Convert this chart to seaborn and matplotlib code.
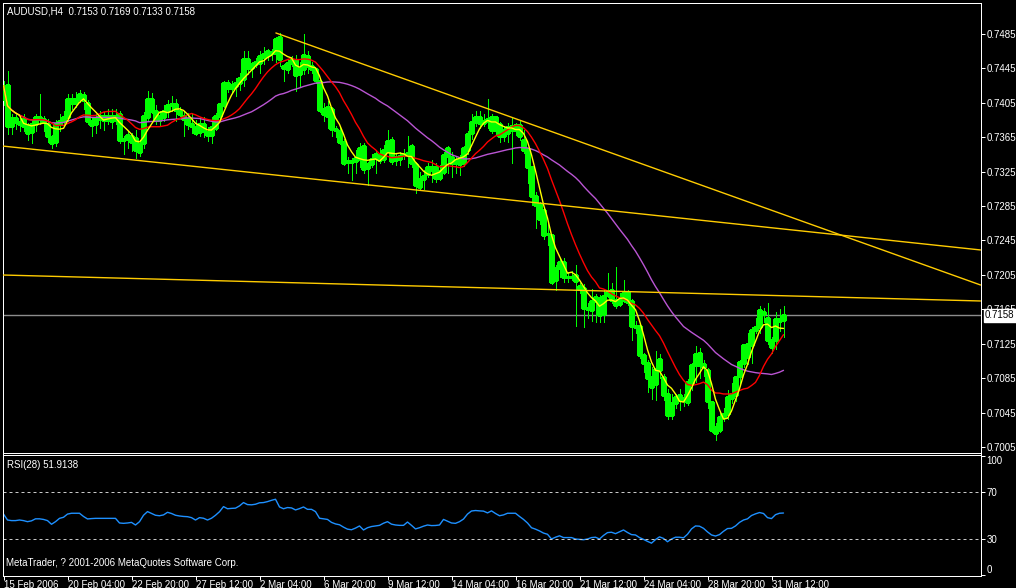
import matplotlib
matplotlib.use("Agg")
import numpy as np
import pandas as pd
import matplotlib.pyplot as plt
import seaborn as sns

# ---- chart data ----
title_text = "AUDUSD,H4  0.7153 0.7169 0.7133 0.7158"
rsi_text = "RSI(28) 51.9138"
footer_text = "MetaTrader, ? 2001-2006 MetaQuotes Software Corp."

opens = [
    0.7410, 0.7426, 0.7378, 0.7387, 0.7383, 0.7386, 0.7378, 0.7371, 0.7380, 0.7388,
    0.7386, 0.7380, 0.7365, 0.7360, 0.7380, 0.7384, 0.7388, 0.7409, 0.7405, 0.7410,
    0.7414, 0.7405, 0.7384, 0.7380, 0.7386, 0.7390, 0.7385, 0.7390, 0.7385, 0.7392,
    0.7362, 0.7363, 0.7366, 0.7364, 0.7348, 0.7358, 0.7388, 0.7409, 0.7396, 0.7385,
    0.7388, 0.7395, 0.7402, 0.7404, 0.7396, 0.7390, 0.7386, 0.7380, 0.7377, 0.7371,
    0.7380, 0.7371, 0.7368, 0.7376, 0.7390, 0.7403, 0.7428, 0.7422, 0.7425, 0.7428,
    0.7433, 0.7456, 0.7446, 0.7450, 0.7451, 0.7458, 0.7461, 0.7464, 0.7463, 0.7482,
    0.7448, 0.7444, 0.7451, 0.7455, 0.7438, 0.7444, 0.7460, 0.7448, 0.7444, 0.7430,
    0.7398, 0.7390, 0.7398, 0.7375, 0.7372, 0.7360, 0.7336, 0.7337, 0.7337, 0.7340,
    0.7355, 0.7329, 0.7334, 0.7341, 0.7344, 0.7340, 0.7350, 0.7362, 0.7338, 0.7340,
    0.7344, 0.7344, 0.7355, 0.7334, 0.7307, 0.7317, 0.7322, 0.7331, 0.7330, 0.7318,
    0.7325, 0.7343, 0.7342, 0.7335, 0.7338, 0.7335, 0.7350, 0.7370, 0.7383, 0.7388,
    0.7382, 0.7384, 0.7388, 0.7374, 0.7380, 0.7367, 0.7370, 0.7378, 0.7374, 0.7379,
    0.7362, 0.7351, 0.7330, 0.7297, 0.7287, 0.7281, 0.7253, 0.7251, 0.7199, 0.7213,
    0.7220, 0.7203, 0.7202, 0.7205, 0.7192, 0.7190, 0.7166, 0.7164, 0.7175, 0.7178,
    0.7160, 0.7182, 0.7188, 0.7176, 0.7171, 0.7176, 0.7185, 0.7175, 0.7146, 0.7146,
    0.7112, 0.7103, 0.7086, 0.7078, 0.7094, 0.7086, 0.7067, 0.7042, 0.7056, 0.7060,
    0.7062, 0.7057, 0.7079, 0.7100, 0.7114, 0.7101, 0.7094, 0.7057, 0.7028, 0.7025,
    0.7040, 0.7043, 0.7062, 0.7066, 0.7087, 0.7103, 0.7110, 0.7124, 0.7141, 0.7145,
    0.7162, 0.7155, 0.7129, 0.7129, 0.7154, 0.7153,
]
highs = [
    0.7430, 0.7442, 0.7392, 0.7393, 0.7390, 0.7392, 0.7382, 0.7385, 0.7392, 0.7415,
    0.7390, 0.7386, 0.7368, 0.7385, 0.7392, 0.7396, 0.7415, 0.7415, 0.7418, 0.7420,
    0.7418, 0.7408, 0.7388, 0.7392, 0.7396, 0.7394, 0.7398, 0.7398, 0.7398, 0.7396,
    0.7367, 0.7372, 0.7370, 0.7373, 0.7362, 0.7394, 0.7419, 0.7417, 0.7402, 0.7396,
    0.7402, 0.7408, 0.7413, 0.7410, 0.7400, 0.7395, 0.7393, 0.7393, 0.7385, 0.7388,
    0.7388, 0.7377, 0.7388, 0.7393, 0.7405, 0.7430, 0.7432, 0.7430, 0.7434, 0.7440,
    0.7465, 0.7465, 0.7453, 0.7457, 0.7465, 0.7470, 0.7468, 0.7467, 0.7482, 0.7486,
    0.7450, 0.7455, 0.7460, 0.7461, 0.7452, 0.7485, 0.7465, 0.7453, 0.7446, 0.7433,
    0.7405, 0.7407, 0.7400, 0.7378, 0.7378, 0.7363, 0.7342, 0.7341, 0.7350, 0.7358,
    0.7358, 0.7336, 0.7346, 0.7350, 0.7352, 0.7356, 0.7373, 0.7365, 0.7345, 0.7348,
    0.7351, 0.7367, 0.7357, 0.7336, 0.7325, 0.7327, 0.7335, 0.7339, 0.7335, 0.7333,
    0.7348, 0.7355, 0.7348, 0.7343, 0.7344, 0.7355, 0.7372, 0.7392, 0.7395, 0.7395,
    0.7392, 0.7410, 0.7392, 0.7390, 0.7383, 0.7378, 0.7382, 0.7387, 0.7381, 0.7384,
    0.7373, 0.7352, 0.7331, 0.7301, 0.7290, 0.7284, 0.7267, 0.7253, 0.7216, 0.7225,
    0.7225, 0.7208, 0.7210, 0.7216, 0.7196, 0.7195, 0.7172, 0.7189, 0.7183, 0.7182,
    0.7187, 0.7207, 0.7196, 0.7214, 0.7184, 0.7199, 0.7188, 0.7177, 0.7152, 0.7148,
    0.7114, 0.7106, 0.7098, 0.7117, 0.7113, 0.7090, 0.7072, 0.7067, 0.7067, 0.7072,
    0.7067, 0.7084, 0.7103, 0.7122, 0.7120, 0.7106, 0.7097, 0.7058, 0.7033, 0.7045,
    0.7050, 0.7071, 0.7079, 0.7088, 0.7106, 0.7124, 0.7138, 0.7144, 0.7155, 0.7169,
    0.7166, 0.7172, 0.7133, 0.7162, 0.7165, 0.7169,
]
lows = [
    0.7402, 0.7369, 0.7369, 0.7375, 0.7372, 0.7372, 0.7362, 0.7358, 0.7372, 0.7380,
    0.7372, 0.7360, 0.7352, 0.7355, 0.7372, 0.7378, 0.7384, 0.7398, 0.7400, 0.7406,
    0.7398, 0.7380, 0.7367, 0.7370, 0.7376, 0.7374, 0.7380, 0.7376, 0.7380, 0.7358,
    0.7346, 0.7352, 0.7349, 0.7341, 0.7343, 0.7353, 0.7384, 0.7393, 0.7380, 0.7378,
    0.7384, 0.7388, 0.7395, 0.7384, 0.7390, 0.7367, 0.7375, 0.7370, 0.7368, 0.7367,
    0.7365, 0.7361, 0.7358, 0.7373, 0.7385, 0.7400, 0.7418, 0.7416, 0.7413, 0.7420,
    0.7425, 0.7438, 0.7435, 0.7447, 0.7440, 0.7450, 0.7455, 0.7455, 0.7453, 0.7448,
    0.7430, 0.7440, 0.7448, 0.7419, 0.7425, 0.7438, 0.7440, 0.7440, 0.7428, 0.7394,
    0.7384, 0.7376, 0.7366, 0.7365, 0.7357, 0.7333, 0.7324, 0.7315, 0.7324, 0.7330,
    0.7324, 0.7309, 0.7331, 0.7324, 0.7335, 0.7336, 0.7348, 0.7334, 0.7333, 0.7333,
    0.7340, 0.7330, 0.7330, 0.7300, 0.7305, 0.7305, 0.7319, 0.7313, 0.7313, 0.7315,
    0.7322, 0.7323, 0.7319, 0.7323, 0.7321, 0.7332, 0.7345, 0.7363, 0.7378, 0.7376,
    0.7378, 0.7376, 0.7370, 0.7368, 0.7360, 0.7361, 0.7360, 0.7335, 0.7368, 0.7362,
    0.7347, 0.7312, 0.7286, 0.7260, 0.7264, 0.7247, 0.7240, 0.7195, 0.7187, 0.7202,
    0.7197, 0.7197, 0.7199, 0.7146, 0.7184, 0.7144, 0.7155, 0.7152, 0.7150, 0.7150,
    0.7150, 0.7179, 0.7172, 0.7167, 0.7169, 0.7173, 0.7170, 0.7129, 0.7137, 0.7108,
    0.7092, 0.7069, 0.7061, 0.7060, 0.7085, 0.7060, 0.7038, 0.7038, 0.7050, 0.7048,
    0.7053, 0.7054, 0.7071, 0.7080, 0.7085, 0.7088, 0.7050, 0.7023, 0.7013, 0.7022,
    0.7035, 0.7038, 0.7056, 0.7059, 0.7079, 0.7098, 0.7102, 0.7103, 0.7137, 0.7138,
    0.7150, 0.7125, 0.7114, 0.7119, 0.7140, 0.7133,
]
closes = [
    0.7425, 0.7378, 0.7387, 0.7383, 0.7380, 0.7378, 0.7370, 0.7380, 0.7388, 0.7386,
    0.7383, 0.7367, 0.7358, 0.7380, 0.7384, 0.7388, 0.7410, 0.7405, 0.7410, 0.7415,
    0.7408, 0.7384, 0.7379, 0.7387, 0.7390, 0.7385, 0.7390, 0.7384, 0.7390, 0.7362,
    0.7363, 0.7368, 0.7360, 0.7350, 0.7357, 0.7390, 0.7409, 0.7396, 0.7385, 0.7390,
    0.7395, 0.7402, 0.7404, 0.7397, 0.7392, 0.7386, 0.7380, 0.7378, 0.7370, 0.7380,
    0.7372, 0.7368, 0.7377, 0.7390, 0.7404, 0.7428, 0.7422, 0.7426, 0.7428, 0.7434,
    0.7456, 0.7446, 0.7450, 0.7452, 0.7459, 0.7462, 0.7465, 0.7463, 0.7479, 0.7456,
    0.7445, 0.7451, 0.7455, 0.7437, 0.7444, 0.7461, 0.7448, 0.7444, 0.7432, 0.7397,
    0.7392, 0.7400, 0.7375, 0.7373, 0.7360, 0.7335, 0.7337, 0.7336, 0.7341, 0.7352,
    0.7328, 0.7334, 0.7340, 0.7345, 0.7339, 0.7350, 0.7361, 0.7337, 0.7342, 0.7343,
    0.7346, 0.7347, 0.7335, 0.7309, 0.7317, 0.7320, 0.7331, 0.7327, 0.7318, 0.7326,
    0.7344, 0.7352, 0.7335, 0.7338, 0.7334, 0.7352, 0.7369, 0.7383, 0.7388, 0.7382,
    0.7384, 0.7386, 0.7374, 0.7388, 0.7367, 0.7373, 0.7377, 0.7374, 0.7379, 0.7367,
    0.7350, 0.7330, 0.7297, 0.7286, 0.7270, 0.7251, 0.7252, 0.7197, 0.7213, 0.7220,
    0.7203, 0.7202, 0.7203, 0.7198, 0.7189, 0.7166, 0.7165, 0.7175, 0.7179, 0.7158,
    0.7181, 0.7185, 0.7176, 0.7170, 0.7176, 0.7184, 0.7173, 0.7146, 0.7144, 0.7112,
    0.7103, 0.7085, 0.7075, 0.7096, 0.7107, 0.7065, 0.7042, 0.7056, 0.7063, 0.7065,
    0.7060, 0.7080, 0.7100, 0.7113, 0.7100, 0.7098, 0.7058, 0.7025, 0.7021, 0.7040,
    0.7043, 0.7063, 0.7067, 0.7086, 0.7104, 0.7123, 0.7125, 0.7141, 0.7145, 0.7164,
    0.7160, 0.7129, 0.7121, 0.7154, 0.7152, 0.7158,
]
rsi_values = [
    51.0, 46.0, 45.5, 45.5, 46.0, 45.5, 44.6, 45.3, 47.0, 47.0,
    46.5, 45.5, 42.4, 44.6, 47.4, 48.3, 51.0, 51.7, 51.7, 51.7,
    49.0, 46.9, 47.2, 47.4, 47.4, 47.4, 47.4, 47.4, 47.4, 43.5,
    43.2, 43.5, 44.0, 41.8, 44.6, 50.0, 53.1, 51.5, 50.0, 49.6,
    50.3, 52.5, 51.5, 50.0, 49.4, 49.0, 48.8, 48.0, 46.0, 48.0,
    47.5, 46.0, 47.5, 50.0, 53.0, 57.3, 55.5, 55.8, 56.0, 57.9,
    60.7, 59.0, 58.8, 59.3, 60.5, 60.7, 61.5, 62.6, 63.5, 57.0,
    55.5, 56.5, 56.2, 54.5, 55.6, 57.0, 55.0, 55.0, 53.1, 47.5,
    47.0, 46.5, 44.0, 42.7, 42.0, 40.0, 38.3, 37.8, 39.2, 41.0,
    37.6, 39.5, 40.5, 41.0, 41.5, 43.3, 44.6, 42.5, 41.8, 41.5,
    41.5, 44.3, 41.5, 38.5, 39.5, 40.8, 41.8, 41.3, 41.4, 41.8,
    46.5, 45.0, 43.5, 43.2, 44.6, 46.8, 51.0, 53.6, 54.0, 53.7,
    53.5, 52.0, 53.7, 51.5, 49.6, 50.3, 51.7, 51.7, 51.7, 49.0,
    46.5, 43.5, 39.5, 38.3, 36.8, 35.0, 34.0, 30.0, 31.5, 32.7,
    31.2, 31.2, 31.2, 30.0, 29.7, 29.4, 30.0, 31.2, 31.5, 30.0,
    33.0, 35.4, 35.7, 34.5, 36.0, 37.6, 35.5, 33.7, 33.4, 31.2,
    29.7, 28.0, 26.5, 29.5, 31.8, 30.5, 27.7, 30.0, 31.5, 31.5,
    31.0, 34.0, 38.5, 41.0, 40.8, 39.0, 36.0, 33.4, 32.5, 33.7,
    36.5, 38.8, 39.0, 41.0, 44.0, 46.0, 47.0, 49.8, 51.2, 52.3,
    51.5, 48.0, 47.2, 50.5, 51.7, 51.9,
]

# moving average periods (yellow / red / violet)
ma_periods = [5, 13, 34]
ma_colors = ["#FFFF00", "#FF0000", "#BA55D3"]

# hand drawn trend lines: (bar, price) -> (bar, price)
trend_x0 = [68.1, -0.25, -0.25]
trend_p0 = [0.74862, 0.73548, 0.72049]
trend_x1 = [244.25, 244.25, 244.25]
trend_p1 = [0.71933, 0.72340, 0.71747]

last_price = 0.7158
price_ticks = [0.7005, 0.7045, 0.7085, 0.7125, 0.7165, 0.7205, 0.7245,
               0.7285, 0.7325, 0.7365, 0.7405, 0.7445, 0.7485]
rsi_ticks = [100, 70, 30, 0]
rsi_levels = [70, 30]
date_bars = [0, 16, 32, 48, 64, 80, 96, 112, 128, 144, 160, 176, 192]
date_labels = ["15 Feb 2006", "20 Feb 04:00", "22 Feb 20:00", "27 Feb 12:00",
               "2 Mar 04:00", "6 Mar 20:00", "9 Mar 12:00", "14 Mar 04:00",
               "16 Mar 20:00", "21 Mar 12:00", "24 Mar 04:00", "28 Mar 20:00",
               "31 Mar 12:00"]

LIME = "#00FF00"
FONT = ["Liberation Sans", "DejaVu Sans"]

sns.set_style("dark", {"axes.facecolor": "black", "figure.facecolor": "black"})
plt.rcParams["font.family"] = FONT

df = pd.DataFrame({"bar": np.arange(len(closes)), "open": opens, "high": highs,
                   "low": lows, "close": closes, "rsi": rsi_values})
for p in ma_periods:
    df[f"ma{p}"] = df["close"].rolling(p, min_periods=1).mean()

W, H = 1016, 588
fig = plt.figure(figsize=(W / 100, H / 100), dpi=100, facecolor="black")
ax = fig.add_axes([2.5 / W, 1 - 452.5 / H, 978 / W, 450 / H])
ax_rsi = fig.add_axes([2.5 / W, 1 - 575.5 / H, 978 / W, 121 / H])

px = 72 / 100  # one pixel in points

# candles: lime wicks, bodies outlined in lime (bull hollow, bear white)
up = df["close"] >= df["open"]
ax.vlines(df["bar"], df["low"], df["high"], color=LIME, lw=px, antialiased=False, zorder=2)
body_lo = df[["open", "close"]].min(axis=1)
body_h = (df["close"] - df["open"]).abs()
ax.bar(df["bar"], body_h, bottom=body_lo, width=0.62,
       color=np.where(up, "black", "white"), edgecolor=LIME, linewidth=1.0,
       antialiased=False, zorder=3)

# moving averages
for p, c in zip(ma_periods[::-1], ma_colors[::-1]):
    sns.lineplot(data=df, x="bar", y=f"ma{p}", color=c, lw=1.0, ax=ax, zorder=4)

# trend lines
for x0, p0, x1, p1 in zip(trend_x0, trend_p0, trend_x1, trend_p1):
    ax.plot([x0, x1], [p0, p1], color="#FFCC00", lw=1.0, zorder=5)

ax.axhline(last_price, color="#8C8C8C", lw=1.0, zorder=1)

ax.set_xlim(-0.25, 244.25)
ax.set_ylim(0.7485 - (452.5 - 34) / 8604, 0.7485 + (34 - 2.5) / 8604)
ax.set_xlabel("")
ax.set_ylabel("")
ax.set_xticks([])
ax.yaxis.tick_right()
ax.set_yticks(price_ticks)
ax.set_yticklabels([f"{v:.4f}" for v in price_ticks])
ax.tick_params(axis="y", colors="white", labelcolor="white", length=3.5 * px,
               width=px, pad=2.5 * px, labelsize=7, right=True, left=False)
for s in ax.spines.values():
    s.set_color("white")
    s.set_linewidth(px)
ax.grid(False)

# current price marker on the price scale (covers the 0.7165 label, as in MetaTrader)
ax.annotate(f"{last_price:.4f}", xy=(1.0, last_price), xycoords=ax.get_yaxis_transform(),
            xytext=(4.5 * px, 0), textcoords="offset points",
            ha="left", va="center", fontsize=7, color="black", zorder=10,
            bbox=dict(boxstyle="square,pad=0.15", fc="white", ec="white"),
            annotation_clip=False)

# RSI panel
sns.lineplot(data=df, x="bar", y="rsi", color="#1E90FF", lw=1.0, ax=ax_rsi)
for lvl in rsi_levels:
    ax_rsi.axhline(lvl, color="#C8C8C8", lw=px, ls=(0, (3, 3)))
ax_rsi.set_xlim(-0.25, 244.25)
ax_rsi.set_ylim(-0.75, 101.2)
ax_rsi.set_xlabel("")
ax_rsi.set_ylabel("")
ax_rsi.yaxis.tick_right()
ax_rsi.set_yticks(rsi_ticks)
ax_rsi.set_yticklabels([str(v) for v in rsi_ticks])
ax_rsi.tick_params(axis="y", colors="white", labelcolor="white", length=3.5 * px,
                   width=px, pad=2.5 * px, labelsize=7, right=True, left=False)
ylbls = ax_rsi.get_yticklabels()
ylbls[0].set_va("top")
ylbls[-1].set_va("bottom")
ax_rsi.set_xticks(date_bars)
ax_rsi.set_xticklabels(date_labels)
ax_rsi.tick_params(axis="x", colors="white", labelcolor="white", length=4 * px,
                   width=px, pad=0, labelsize=7, bottom=True)
for lbl in ax_rsi.get_xticklabels():
    lbl.set_ha("left")
for s in ax_rsi.spines.values():
    s.set_color("white")
    s.set_linewidth(px)
ax_rsi.grid(False)

# header / footer texts
fig.text(7 / W, 1 - 11 / H, title_text, color="white", fontsize=7, va="center", ha="left")
fig.text(7 / W, 1 - 465 / H, rsi_text, color="white", fontsize=7, va="center", ha="left")
fig.text(6 / W, 1 - 563 / H, footer_text, color="white", fontsize=7, va="center", ha="left")

fig.savefig("out.png", dpi=100, facecolor="black")
